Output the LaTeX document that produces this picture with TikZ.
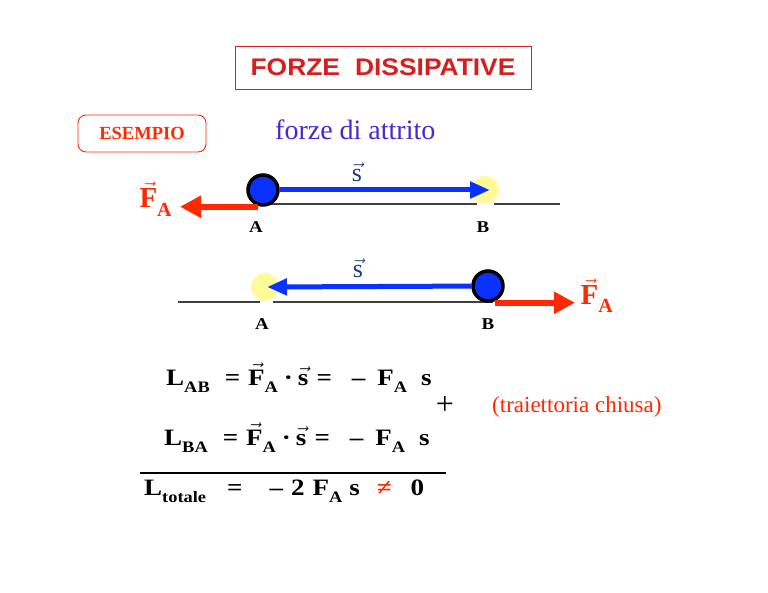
\documentclass[tikz,border=0pt]{standalone}
\usepackage{fontspec}
\setmainfont{Liberation Serif}
\newfontfamily\titlefont[FakeStretch=1.1]{Liberation Sans}
\newfontfamily\wideserif[FakeStretch=1.15]{Liberation Serif}
\usetikzlibrary{arrows.meta,positioning}

\definecolor{fred}{RGB}{255,40,0}
\definecolor{tred}{RGB}{215,30,30}
\definecolor{boxred}{RGB}{230,85,75}
\definecolor{ballblue}{RGB}{10,50,255}
\definecolor{violet}{RGB}{70,40,210}
\definecolor{navy}{RGB}{30,55,140}
\definecolor{ghost}{RGB}{255,250,150}

\newcommand\fs[1]{\fontsize{#1}{#1}\selectfont}
\newcommand\vv[1]{\ensuremath{\vec{\mbox{#1}}}}
\newcommand\dn[2]{\raisebox{-#1}{\fs{16}#2}}
\newcommand\gap[1]{\hspace{#1pt}}

\begin{document}
\begin{tikzpicture}[x=1pt, y=-1pt,
    ball/.style={circle, fill=ballblue, draw=black, line width=3.5pt, minimum size=30pt, inner sep=0pt},
    ghostball/.style={circle, fill=ghost, draw=ghost!70, line width=1.5pt, minimum size=27pt, inner sep=0pt},
    ground/.style={draw=black!75, line width=1.1pt},
    sarrow/.style={ballblue, line width=5pt, -{Triangle[length=20pt, width=16pt]}},
    farrow/.style={fred, line width=6pt, -{Triangle[length=21pt, width=21pt]}},
    point/.style={font=\wideserif\fs{16.5}\bfseries},
    slabel/.style={navy, font=\fs{26}, anchor=base},
    flabel/.style={fred, font=\fs{29}\bfseries, anchor=base west},
    eq/.style={font=\wideserif\fs{23.5}\bfseries, anchor=base west, inner sep=0pt}]
    \useasboundingbox (0,0) rectangle (768,593);

    % Title and boxes
    \node[draw=boxred, line width=0.9pt, minimum width=296pt, minimum height=43pt,
        tred, font=\titlefont\fs{24}\bfseries] (title) at (383,67.5) {FORZE\hspace{15pt}DISSIPATIVE};
    \node[draw=boxred, line width=0.9pt, rounded corners=8pt, minimum width=128pt, minimum height=37pt,
        fred, font=\fs{18.5}\bfseries] (esempio) at (142,133.5) {ESEMPIO};
    \node[violet, font=\fs{28}, anchor=base west, inner sep=0pt] (attrito) at (275,140) {forze di attrito};

    % First motion: A to B
    \draw[ground] (258,204) -- (477,204);
    \draw[ground] (494,204) -- (560,204);
    \node[ghostball] (ghostB) at (485,190) {};
    \node[ball] (ballA) at (263,190) {};
    \draw[sarrow] (ballA) -- ([xshift=5pt]ghostB.center);
    \path (ballA.south) ++(-5pt,0) coordinate (fstartA) ++(-78pt,0) coordinate (ftipA);
    \draw[farrow] (fstartA) -- (ftipA);
    \node[slabel] (sAB) at (357,182) {\vv{s}};
    \node[flabel] (fA) at (136,208) {\vv{F}\dn{9pt}{\fs{20}A}};
    \node[point] (labA) at (256,227) {A};
    \node[point] (labB) at (483,227) {B};

    % Second motion: B to A
    \draw[ground] (178,302) -- (260,302);
    \draw[ground] (273,302) -- (493,302);
    \node[ghostball] (ghostA) at (265,287) {};
    \node[ball] (ballB) at (488,286) {};
    \draw[sarrow] (ballB) -- ([xshift=2pt]ghostA.center);
    \path (ballB.south) ++(7pt,0) coordinate (fstartB) ++(80pt,0) coordinate (ftipB);
    \draw[farrow] (fstartB) -- (ftipB);
    \node[slabel] (sBA) at (358,278) {\vv{s}};
    \node[flabel] (fB) at (577,305) {\vv{F}\dn{8pt}{\fs{20}A}};
    \node[point] (labA2) at (262,324) {A};
    \node[point] (labB2) at (488,324) {B};

    % Work
    \node[eq] (lab) at (166,385) {L\dn{7pt}{AB}\gap{15}=\gap{8}\vv{F}\dn{7pt}{A}\gap{6}·\gap{5}\vv{s}\gap{8}=\gap{20}–\gap{12}F\dn{7pt}{A}\gap{14}s};
    \node[eq] (lba) at (164,445) {L\dn{7pt}{BA}\gap{15}=\gap{8}\vv{F}\dn{7pt}{A}\gap{6}·\gap{5}\vv{s}\gap{8}=\gap{20}–\gap{12}F\dn{7pt}{A}\gap{14}s};
    \node[font=\fs{32}, inner sep=0pt] (plus) at (445,405) {+};
    \node[fred, font=\fs{23}, anchor=base west, inner sep=0pt] (chiusa) at (492,412) {(traiettoria chiusa)};
    \draw[line width=2pt] (140,473) -- (446,473);
    \node[eq] (ltot) at (144,495) {L\dn{7pt}{totale}\gap{21}=\gap{27}–\gap{8}2\gap{8}F\dn{7pt}{A}\gap{7}s\gap{17}{\color{fred}≠}\gap{19}0};
\end{tikzpicture}
\end{document}
